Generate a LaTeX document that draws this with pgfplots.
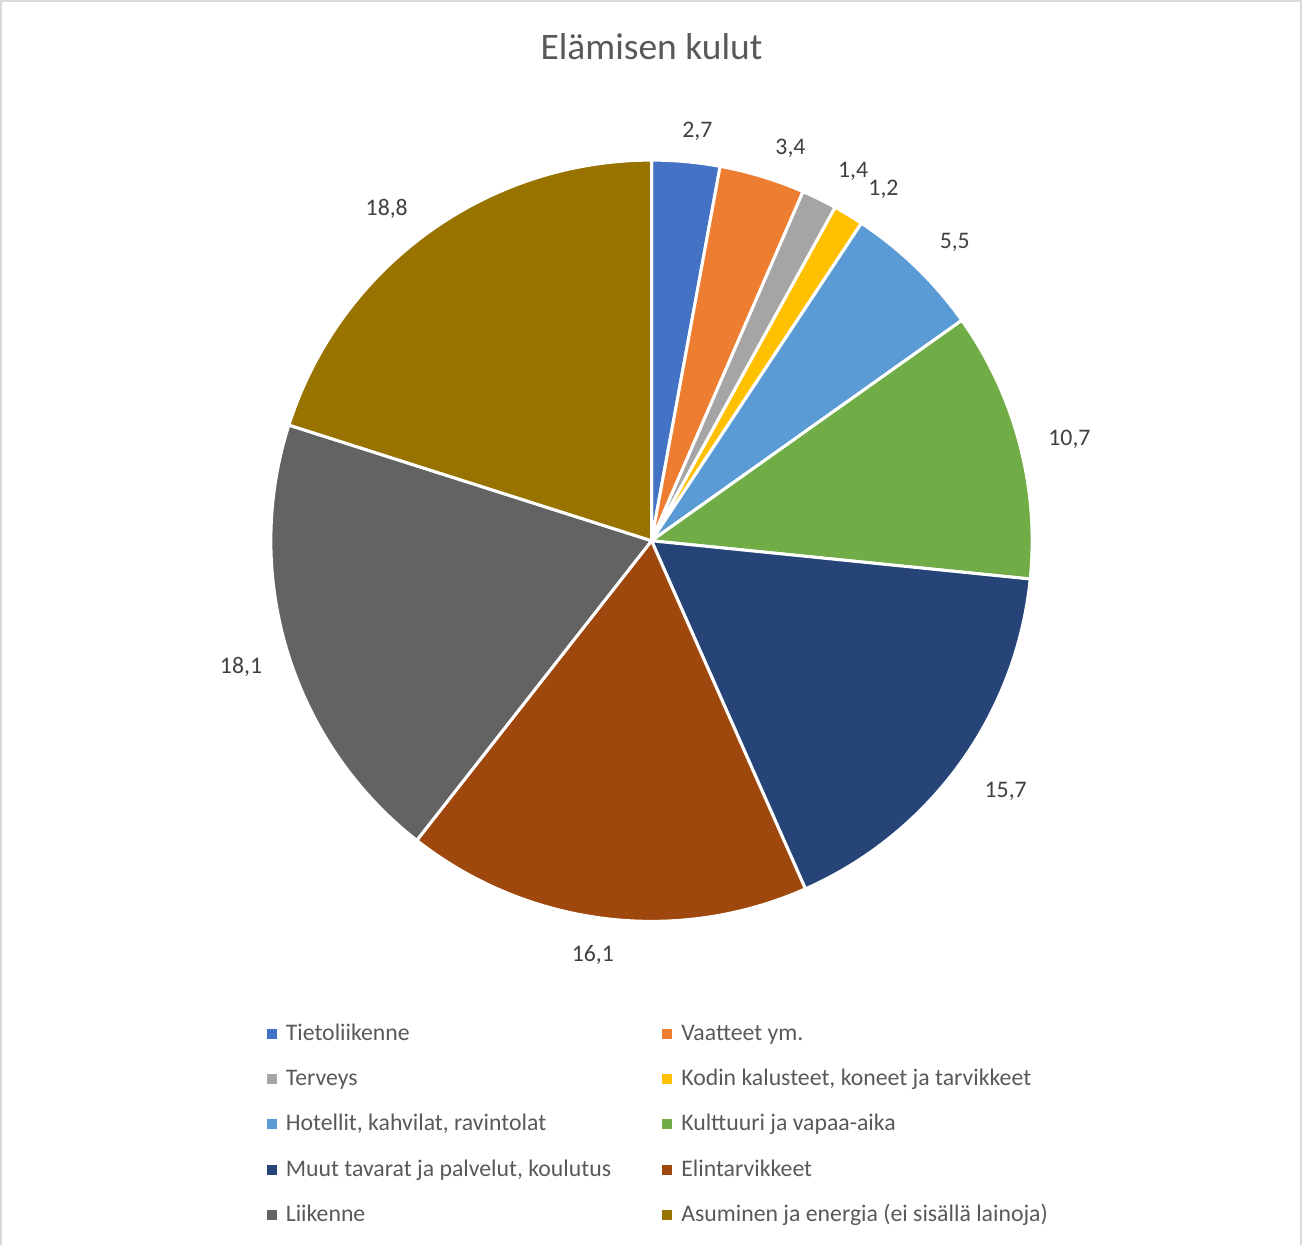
\documentclass[border=0pt]{standalone}
\usepackage{pgfplots}
\pgfplotsset{compat=1.18}
\usepackage{pgfplotstable}
\usetikzlibrary{calc}
\usepackage{fontspec}
\setmainfont{Carlito}
\definecolor{c1}{HTML}{4472C4}
\definecolor{c2}{HTML}{ED7D31}
\definecolor{c3}{HTML}{A5A5A5}
\definecolor{c4}{HTML}{FFC000}
\definecolor{c5}{HTML}{5B9BD5}
\definecolor{c6}{HTML}{70AD47}
\definecolor{c7}{HTML}{264478}
\definecolor{c8}{HTML}{9E480E}
\definecolor{c9}{HTML}{636363}
\definecolor{c10}{HTML}{997300}
\definecolor{txt}{HTML}{595959}
\definecolor{lbl}{HTML}{404040}
\definecolor{frame}{HTML}{D9D9D9}
\newcommand\labelfont{\fontsize{11.8}{14}\selectfont}

% value = share; dx, dy = label nudge (pt)
\pgfplotstableread[col sep=semicolon]{
name;value;col;dx;dy
Tietoliikenne;2.7;c1;4;-1.5
Vaatteet ym.;3.4;c2;9;-2.5
Terveys;1.4;c3;9;-2
Kodin kalusteet, koneet ja tarvikkeet;1.2;c4;8;-2.5
Hotellit, kahvilat, ravintolat;5.5;c5;5.5;-1.5
Kulttuuri ja vapaa-aika;10.7;c6;2.5;-3.5
Muut tavarat ja palvelut, koulutus;15.7;c7;5.5;-1
Elintarvikkeet;16.1;c8;-3.5;-1.5
Liikenne;18.1;c9;-1;0
Asuminen ja energia (ei sisällä lainoja);18.8;c10;-9;-3
}\costs

\pgfplotstablegetrowsof{\costs}
\pgfmathtruncatemacro\nrows{\pgfplotsretval-1}
\def\total{0}
\pgfplotsforeachungrouped \i in {0,...,\nrows}{%
  \pgfplotstablegetelem{\i}{value}\of\costs
  \pgfmathsetmacro\total{\total+\pgfplotsretval}%
  \xdef\total{\total}%
}

\begin{document}
\begin{tikzpicture}
\begin{axis}[
  width=651pt, height=620pt, scale only axis,
  xmin=0, xmax=1302, ymin=0, ymax=1240, y dir=reverse,
  hide axis, clip=false,
  legend columns=2,
  legend cell align=left,
  legend style={draw=none, fill=none, inner sep=0pt, outer sep=0pt,
    at={(axis cs:271,1019)}, anchor=north west,
    font=\labelfont, text=txt, row sep=11pt,
    nodes={inner sep=0pt, text height=9pt, text depth=2.5pt},
    /tikz/every odd column/.append style={column sep=4.5pt},
    /tikz/every even column/.append style={column sep=0pt}},
]
\draw[frame, line width=1pt] (axis cs:7,1240) -- (axis cs:7,5) -- (axis cs:1298,5) -- (axis cs:1298,1240);
\node[text=txt, font=\fontsize{18.6}{22}\selectfont] at (axis cs:653,50) {Elämisen kulut};
\def\cum{0}
\pgfplotsforeachungrouped \i in {0,...,\nrows}{%
  \pgfplotstablegetelem{\i}{value}\of\costs \let\v\pgfplotsretval
  \pgfplotstablegetelem{\i}{col}\of\costs \let\c\pgfplotsretval
  \pgfplotstablegetelem{\i}{dx}\of\costs \let\dx\pgfplotsretval
  \pgfplotstablegetelem{\i}{dy}\of\costs \let\dy\pgfplotsretval
  \pgfmathsetmacro\a{90-\cum/\total*360}%
  \pgfmathsetmacro\b{90-(\cum+\v)/\total*360}%
  \pgfmathsetmacro\m{(\a+\b)/2}%
  \pgfmathsetmacro\am{mod(\m+540,360)}%
  \pgfmathprintnumberto[fixed,precision=1,fixed zerofill,use comma,assume math mode=true]{\v}{\lbl}%
  \edef\tmp{%
    \noexpand\fill[\c, draw=white, line width=1.5pt] (axis cs:653,541) -- ++(\a:189pt) arc[start angle=\a, end angle=\b, radius=189pt] -- cycle;
    \noexpand\node[anchor=\am, font=\noexpand\labelfont, text=lbl, inner sep=2pt] at ($(axis cs:653,541)+(\m:199pt)+(\dx pt,\dy pt)$) {\lbl};
    \noexpand\addlegendimage{legend image code/.code={\noexpand\fill[\c] (0pt,-2.25pt) rectangle (4.5pt,2.25pt);}}%
  }%
  \tmp
  \pgfplotstablegetelem{\i}{name}\of\costs
  \edef\tmp{\noexpand\addlegendentry{\noexpand\makebox[187pt][l]{\pgfplotsretval}}}%
  \tmp
  \pgfmathsetmacro\cum{\cum+\v}%
}
\end{axis}
\end{tikzpicture}
\end{document}
